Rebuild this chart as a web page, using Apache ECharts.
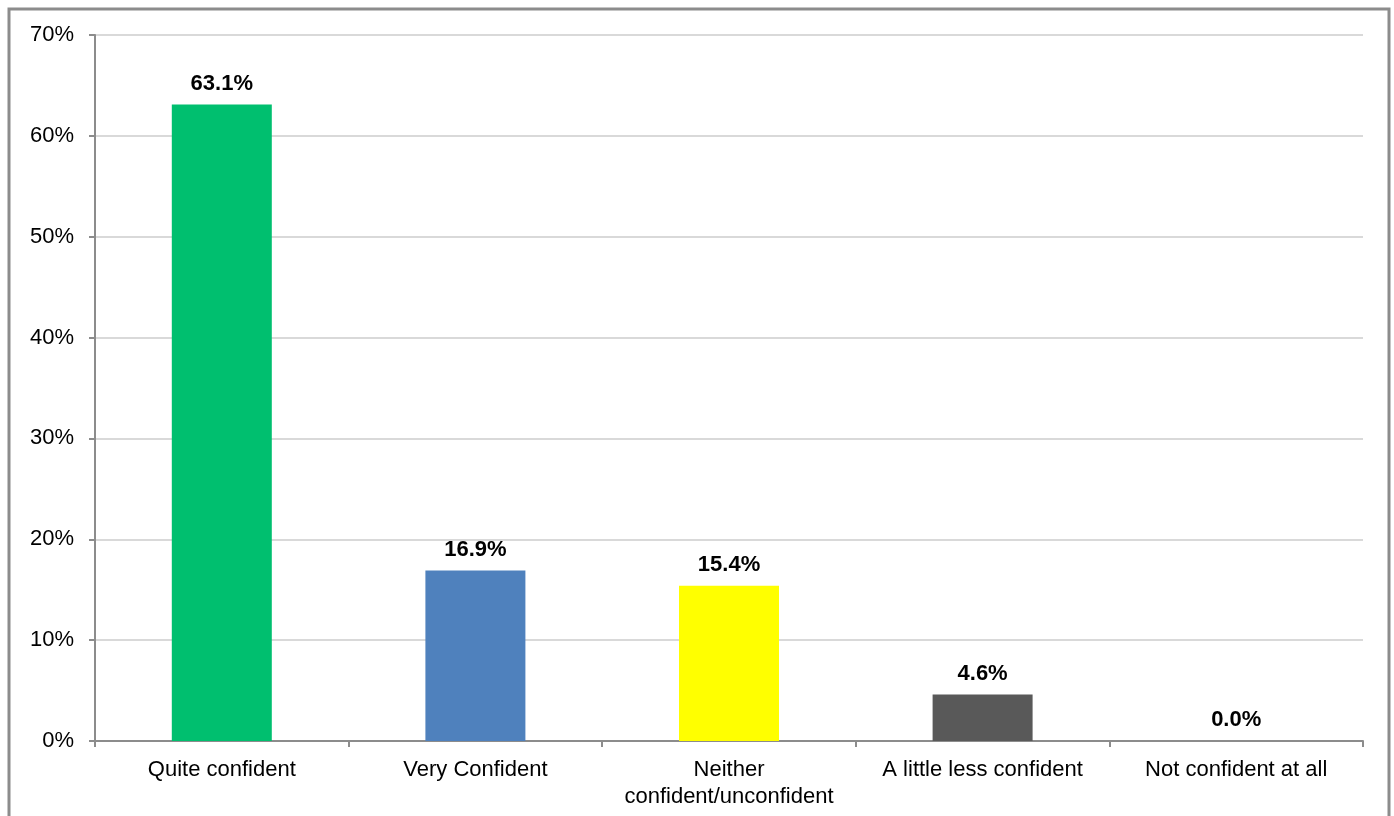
<!DOCTYPE html>
<html>
<head>
<meta charset="utf-8">
<script src="https://cdn.jsdelivr.net/npm/echarts@6/dist/echarts.min.js"></script>
<style>
  html, body { margin: 0; padding: 0; background: #ffffff; }
  #chart { width: 1394px; height: 816px; }
</style>
</head>
<body>
<div id="chart"></div>
<script>
// Confidence levels and their shares (%)
const categories = [
  'Quite confident',
  'Very Confident',
  'Neither\nconfident/unconfident',
  'A little less confident',
  'Not confident at all'
];
const shares = [63.1, 16.9, 15.4, 4.6, 0.0];
const barColors = ['#00bf6f', '#4f81bd', '#ffff00', '#595959', '#7f7f7f'];
const yTicks = [0, 10, 20, 30, 40, 50, 60, 70];

const chart = echarts.init(document.getElementById('chart'), null, { renderer: 'canvas' });
const font = '"Liberation Sans", Arial, sans-serif';

chart.setOption({
  animation: false,
  backgroundColor: '#ffffff',
  graphic: [{
    type: 'rect',
    shape: { x: 9, y: 9, width: 1380, height: 900 },
    style: { fill: 'none', stroke: '#8c8c8c', lineWidth: 3 },
    silent: true
  }],
  grid: { left: 95, right: 31, top: 35, bottom: 75, containLabel: false },
  xAxis: {
    type: 'category',
    data: categories,
    axisLine: { lineStyle: { color: '#8c8c8c', width: 2 } },
    axisTick: { show: true, alignWithLabel: false, length: 6, lineStyle: { color: '#8c8c8c', width: 2 } },
    axisLabel: {
      color: '#000000', fontFamily: font, fontSize: 22, margin: 15,
      lineHeight: 27, interval: 0
    }
  },
  yAxis: {
    type: 'value',
    min: yTicks[0],
    max: yTicks[yTicks.length - 1],
    interval: 10,
    axisLine: { show: true, lineStyle: { color: '#8c8c8c', width: 2 } },
    axisTick: { show: true, length: 6, lineStyle: { color: '#8c8c8c', width: 2 } },
    axisLabel: {
      color: '#000000', fontFamily: font, fontSize: 22, margin: 21,
      formatter: v => v + '%'
    },
    splitLine: { lineStyle: { color: '#d9d9d9', width: 2 } }
  },
  series: [{
    type: 'bar',
    barWidth: 100,
    data: shares.map((v, i) => ({ value: v, itemStyle: { color: barColors[i] } })),
    label: {
      show: true,
      position: 'top',
      distance: 10,
      color: '#000000',
      fontFamily: font,
      fontSize: 22,
      fontWeight: 'bold',
      formatter: p => p.value.toFixed(1) + '%'
    }
  }]
});
</script>
</body>
</html>
